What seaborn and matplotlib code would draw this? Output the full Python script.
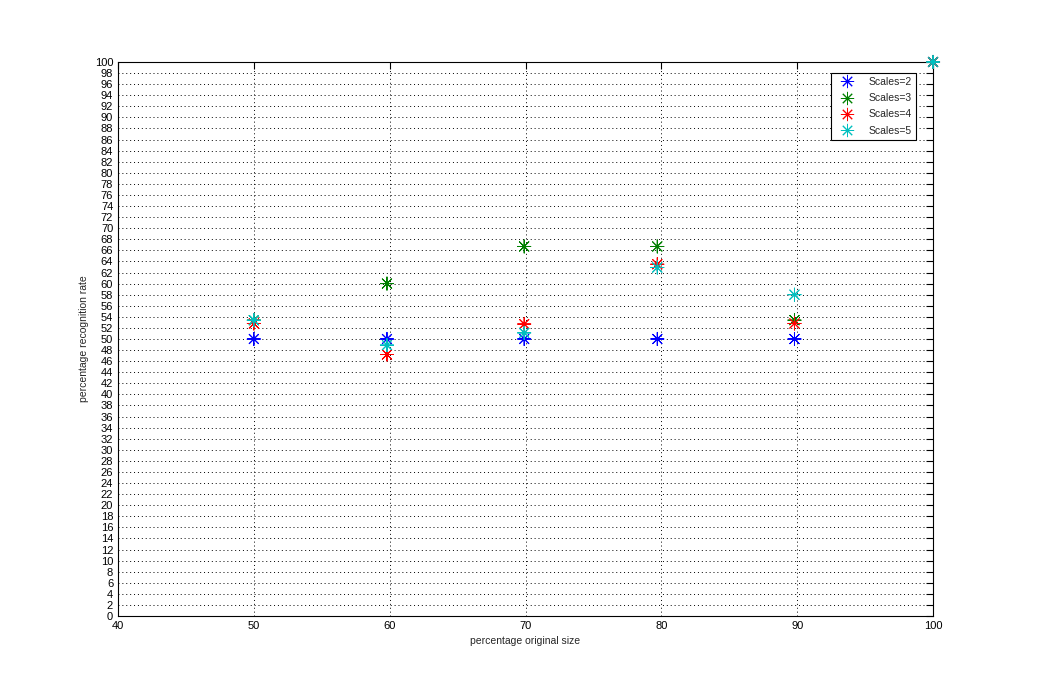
import seaborn as sns
import matplotlib.pyplot as plt
import pandas as pd
import numpy as np

# --- values ---
sizes = [50, 59.8, 69.9, 79.7, 89.8, 100]
scales2 = [50.0, 50.0, 50.0, 50.0, 50.0, 100]
scales3 = [53.4, 60.0, 66.7, 66.7, 53.4, 100]
scales4 = [52.8, 47.2, 52.7, 63.5, 52.8, 100]
scales5 = [53.4, 48.9, 51.1, 62.9, 58.0, 100]
series_names = ["Scales=2", "Scales=3", "Scales=4", "Scales=5"]
colors = [(0, 0, 1), (0, 0.5, 0), (1, 0, 0), (0, 0.75, 0.75)]

records = []
for name, vals in zip(series_names, [scales2, scales3, scales4, scales5]):
    for x, y in zip(sizes, vals):
        records.append({"size": x, "rate": y, "series": name})
df = pd.DataFrame.from_records(records)

sns.set_style("white")
plt.rcParams["font.family"] = ["Liberation Sans", "DejaVu Sans"]

fig = plt.figure(figsize=(10.52, 6.79), dpi=100)
ax = fig.add_axes([0.1122, 0.0928, 0.7747, 0.8159])

ax = sns.scatterplot(
    data=df, x="size", y="rate", hue="series",
    palette=colors, marker=(8, 2, 0), s=90, linewidth=0.7,
    ax=ax, clip_on=False, zorder=3,
)

ax.set_xlim(40, 100)
ax.set_ylim(0, 100)
ax.set_xticks(np.arange(40, 101, 10))
ax.set_yticks(np.arange(0, 101, 2))
ax.tick_params(axis="both", direction="in", length=5, width=0.8,
               labelsize=8, top=True, right=True, colors="black")
ax.grid(True, color="black", linestyle=(0, (1, 3)), linewidth=0.7)
for sp in ax.spines.values():
    sp.set_color("black")
    sp.set_linewidth(0.8)

ax.set_xlabel("percentage original size", fontsize=7.5)
ax.set_ylabel("percentage recognition rate", fontsize=7.5)

leg = ax.legend(loc="upper right", fontsize=7.5, frameon=True, fancybox=False,
                framealpha=1, edgecolor="black", borderpad=0.4,
                labelspacing=0.6, handlelength=2.2, handletextpad=1.0,
                bbox_to_anchor=(0.986, 0.99))
leg.get_frame().set_linewidth(0.8)

fig.savefig("out.png", dpi=100)
